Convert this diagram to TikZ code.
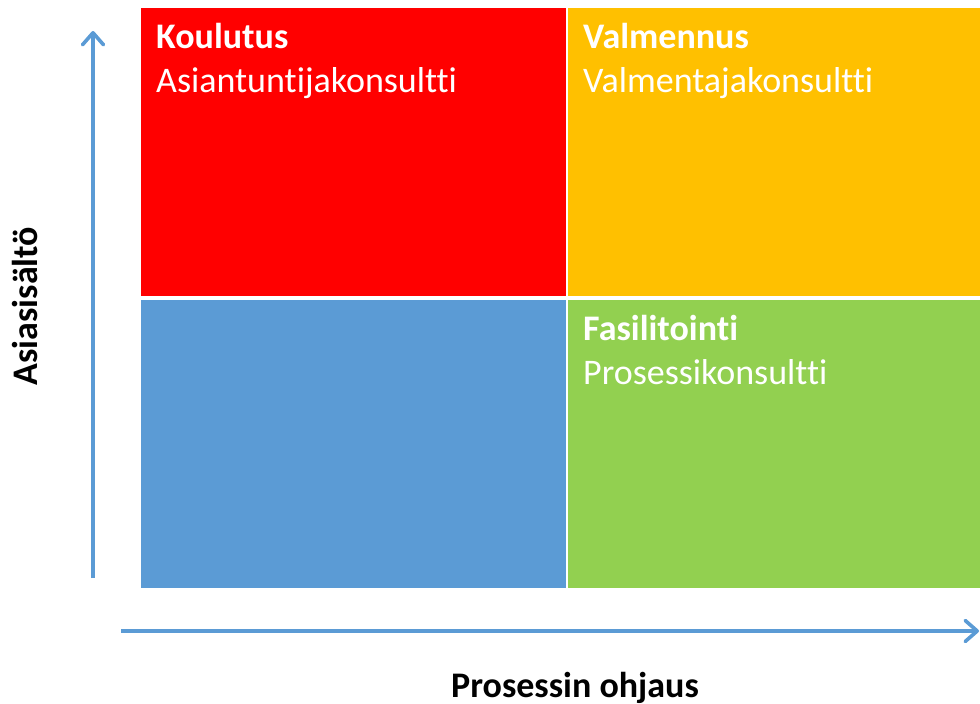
\documentclass[tikz,border=0pt]{standalone}
\usepackage{fontspec}
\setmainfont{Carlito}[Ligatures=NoCommon]
\usetikzlibrary{arrows.meta}
\definecolor{qred}{HTML}{FF0000}
\definecolor{qorange}{HTML}{FFC000}
\definecolor{qblue}{HTML}{5B9BD5}
\definecolor{qgreen}{HTML}{92D050}
\definecolor{axisblue}{HTML}{5B9BD5}
\begin{document}
\begin{tikzpicture}[x=1pt,y=-1pt,
  quad/.style={fill=#1,draw=none,inner sep=0pt,anchor=north west},
  title/.style={anchor=base west,inner sep=0pt,text=white,font=\fontsize{36}{43}\selectfont\bfseries},
  subtitle/.style={anchor=base west,inner sep=0pt,text=white,font=\fontsize{36}{43}\selectfont},
  axis/.style={draw=axisblue,line width=3.6pt,-{Straight Barb[length=12pt,width=21pt,line width=3.6pt,round]}},
  axislabel/.style={inner sep=0pt,text=black,font=\fontsize{36}{43}\selectfont\bfseries}]
\useasboundingbox (0,0) rectangle (980,704);
% four quadrants
\node[quad=qred,minimum width=425pt,minimum height=288pt] (koulutus) at (141,8) {};
\node[quad=qorange,minimum width=412pt,minimum height=288pt] (valmennus) at (568,8) {};
\node[quad=qblue,minimum width=425pt,minimum height=288pt] (tyhja) at (141,300) {};
\node[quad=qgreen,minimum width=412pt,minimum height=288pt] (fasilitointi) at (568,300) {};
% quadrant texts
\node[title] (t1) at (156,48) {Koulutus};
\node[subtitle] (s1) at (156,92) {Asiantuntijakonsultti};
\node[title] (t2) at (583,48) {Valmennus};
\node[subtitle] (s2) at (583,92) {Valmentajakonsultti};
\node[title] (t3) at (583,340) {Fasilitointi};
\node[subtitle] (s3) at (583,384) {Prosessikonsultti};
% axes
\coordinate (ybot) at (93,578);
\coordinate (ytop) at (93,31);
\coordinate (xleft) at (121,631);
\coordinate (xright) at (979,631);
\draw[axis] (ybot) -- (ytop);
\draw[axis] (xleft) -- (xright);
% axis labels
\node[axislabel,anchor=base] (xlab) at (575,697) {Prosessin ohjaus};
\node[axislabel,rotate=90,anchor=base] (ylab) at (37,306) {Asiasisältö};
\end{tikzpicture}
\end{document}
